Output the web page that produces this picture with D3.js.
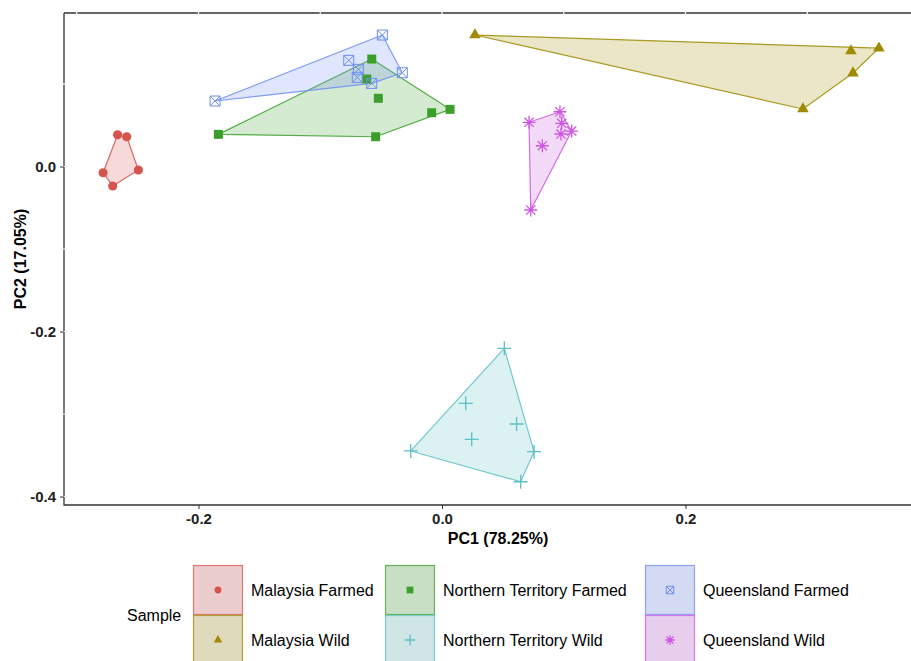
<!DOCTYPE html>
<html>
<head>
<meta charset="utf-8">
<script src="https://cdn.jsdelivr.net/npm/d3@7"></script>
<style>
  body { margin: 0; background: #fff; }
  text { font-family: "Liberation Sans", Arial, sans-serif; }
</style>
</head>
<body>
<svg id="svg-pca"></svg>
<script>
var width = 911,
    height = 661;

// group names and colours
var groups = ["Malaysia Farmed", "Malaysia Wild", "Northern Territory Farmed",
              "Northern Territory Wild", "Queensland Farmed", "Queensland Wild"];
var colors = ["#d5544e", "#9e8b00", "#3c9f2c", "#5abfc6", "#6d8df5", "#cf55e3"];
var shapes = ["circle", "triangle", "square", "plus", "squarecross", "asterisk"];

// PC1, PC2 scores
var malaysiaFarmed = [[-0.2665, 0.0385], [-0.259, 0.0361], [-0.2784, -0.0075],
                      [-0.2705, -0.0236], [-0.2494, -0.0042]];
var malaysiaWild = [[0.0271, 0.1594], [0.3359, 0.140], [0.3589, 0.1436],
                    [0.3376, 0.1133], [0.2965, 0.0697]];
var ntFarmed = [[-0.1837, 0.039], [-0.0577, 0.1303], [-0.0618, 0.1061],
                [-0.0523, 0.0827], [-0.0545, 0.0361], [-0.0085, 0.0652], [0.0066, 0.0693]];
var ntWild = [[0.0512, -0.2204], [0.0195, -0.287], [0.0613, -0.3121],
              [0.0244, -0.3307], [-0.0257, -0.3448], [0.0756, -0.3457], [0.0646, -0.3821]];
var qldFarmed = [[-0.1864, 0.0794], [-0.049, 0.1594], [-0.0766, 0.1287],
                 [-0.0687, 0.1178], [-0.0696, 0.1081], [-0.0577, 0.1008], [-0.0326, 0.1137]];
var qldWild = [[0.0715, 0.0536], [0.0969, 0.0664], [0.0983, 0.0524],
               [0.1065, 0.043], [0.0977, 0.0394], [0.0824, 0.0252], [0.0729, -0.0527]];
var series = [malaysiaFarmed, malaysiaWild, ntFarmed, ntWild, qldFarmed, qldWild];

var xTicks = [-0.2, 0.0, 0.2],
    yTicks = [0.0, -0.2, -0.4],
    gridX = [-0.3, -0.2, -0.1, 0.0, 0.1, 0.2, 0.3],
    gridY = [0.1, 0.0, -0.1, -0.2, -0.3, -0.4];

var pLeft = 64, pRight = 932, pTop = 13, pBottom = 505;

var x = d3.scaleLinear().domain([-0.3105, 0.4025]).range([pLeft, pRight]),
    y = d3.scaleLinear().domain([-0.4103, 0.1861]).range([pBottom, pTop]);

var fmt = function(d) { return d3.format('.1f')(d).replace('\u2212', '-'); };

var svg = d3.select('#svg-pca')
  .attr('width', width)
  .attr('height', height);

function markerPath(shape, s) {
  // s is a scale factor, 1 = plot size
  if (shape == "circle") return d3.symbol(d3.symbolCircle, 66 * s * s)();
  if (shape == "triangle") return d3.symbol(d3.symbolTriangle, 58 * s * s)();
  if (shape == "square") return d3.symbol(d3.symbolSquare, 81 * s * s)();
  if (shape == "plus") {
    var a = 7 * s;
    return "M" + (-a) + ",0H" + a + "M0," + (-a) + "V" + a;
  }
  if (shape == "squarecross") {
    var b = 5 * s;
    return "M" + (-b) + "," + (-b) + "H" + b + "V" + b + "H" + (-b) + "Z" +
           "M" + (-b) + "," + (-b) + "L" + b + "," + b +
           "M" + b + "," + (-b) + "L" + (-b) + "," + b;
  }
  if (shape == "asterisk") {
    var c = 6.5 * s, d = c * 0.707;
    return "M" + (-c) + ",0H" + c + "M0," + (-c) + "V" + c +
           "M" + (-d) + "," + (-d) + "L" + d + "," + d +
           "M" + d + "," + (-d) + "L" + (-d) + "," + d;
  }
}

function isFilled(shape) {
  return shape == "circle" || shape == "triangle" || shape == "square";
}

function drawMarker(g, shape, color, s) {
  var p = g.append('path').attr('d', markerPath(shape, s));
  if (isFilled(shape)) {
    p.attr('fill', color).attr('stroke', 'none');
  } else {
    p.attr('fill', 'none').attr('stroke', color).attr('stroke-width', shape == "squarecross" ? 1 : 1.3);
  }
  return p;
}

// axis lines (left, bottom, top border)
svg.append('path')
  .attr('d', 'M' + pLeft + ',' + pTop + 'V' + pBottom + 'H' + width)
  .attr('fill', 'none').attr('stroke', '#333').attr('stroke-width', 1.3);
svg.append('line')
  .attr('x1', pLeft).attr('x2', width).attr('y1', pTop).attr('y2', pTop)
  .attr('stroke', '#333').attr('stroke-width', 1.3);

// white grid lines (only visible where they cut the axis lines)
svg.append('g').selectAll('line')
  .data(gridX).enter().append('line')
  .attr('x1', d => x(d)).attr('x2', d => x(d))
  .attr('y1', pTop - 2).attr('y2', pBottom - 2)
  .attr('stroke', '#fff').attr('stroke-width', 1.2);
svg.append('g').selectAll('line')
  .data(gridY).enter().append('line')
  .attr('x1', pLeft - 1).attr('x2', width)
  .attr('y1', d => y(d)).attr('y2', d => y(d))
  .attr('stroke', '#fff').attr('stroke-width', 1.2);

// ticks
var xAxis = svg.append('g')
  .attr('transform', 'translate(0,' + pBottom + ')')
  .call(d3.axisBottom(x).tickValues(xTicks).tickFormat(fmt).tickSize(4).tickPadding(4));
var yAxis = svg.append('g')
  .attr('transform', 'translate(' + pLeft + ',0)')
  .call(d3.axisLeft(y).tickValues(yTicks).tickFormat(fmt).tickSize(4).tickPadding(4));
[xAxis, yAxis].forEach(function(a) {
  a.select('.domain').remove();
  a.selectAll('line').attr('stroke', '#333');
  a.selectAll('text')
    .attr('fill', '#222')
    .style('font-size', '15px')
    .style('font-weight', 'bold')
    .style('font-family', '"Liberation Sans", Arial, sans-serif');
});
yAxis.selectAll('text').attr('dy', '0.36em');
xAxis.selectAll('text').attr('dy', '0.75em');

// axis titles
svg.append('text')
  .attr('x', (pLeft + pRight) / 2).attr('y', 544)
  .attr('text-anchor', 'middle')
  .style('font-size', '16px').style('font-weight', 'bold')
  .text('PC1 (78.25%)');
svg.append('text')
  .attr('transform', 'translate(26,' + ((pTop + pBottom) / 2) + ') rotate(-90)')
  .attr('text-anchor', 'middle')
  .style('font-size', '16px').style('font-weight', 'bold')
  .text('PC2 (17.05%)');

// convex hulls
var hulls = svg.append('g').attr('class', 'hulls');
series.forEach(function(pts, i) {
  var hull = d3.polygonHull(pts.map(p => [x(p[0]), y(p[1])]));
  hulls.append('path')
    .attr('d', 'M' + hull.join('L') + 'Z')
    .attr('fill', colors[i])
    .attr('fill-opacity', 0.22)
    .attr('stroke', colors[i])
    .attr('stroke-opacity', 0.85)
    .attr('stroke-width', 1.2)
    .attr('stroke-linejoin', 'round');
});

// points
var points = svg.append('g').attr('class', 'points');
series.forEach(function(pts, i) {
  pts.forEach(function(p) {
    var g = points.append('g')
      .attr('transform', 'translate(' + x(p[0]) + ',' + y(p[1]) + ')');
    drawMarker(g, shapes[i], colors[i], 1);
  });
});

// legend
var legend = svg.append('g').attr('class', 'legend');
var colX = [193, 385, 645], rowY = [565, 615], keySize = 50;
legend.append('text')
  .attr('x', 127).attr('y', 615)
  .attr('dy', '0.35em')
  .style('font-size', '16px')
  .text('Sample');
groups.forEach(function(name, i) {
  var cx = colX[Math.floor(i / 2)], cy = rowY[i % 2];
  var k = legend.append('g').attr('transform', 'translate(' + cx + ',' + cy + ')');
  k.append('rect')
    .attr('x', 0.5).attr('y', 0.5)
    .attr('width', keySize - 1).attr('height', keySize - 1)
    .attr('fill', '#f0f0f0');
  k.append('rect')
    .attr('x', 0.5).attr('y', 0.5)
    .attr('width', keySize - 1).attr('height', keySize - 1)
    .attr('fill', colors[i]).attr('fill-opacity', 0.22)
    .attr('stroke', colors[i]).attr('stroke-opacity', 0.75).attr('stroke-width', 1.2);
  var m = k.append('g').attr('transform', 'translate(' + keySize / 2 + ',' + keySize / 2 + ')');
  drawMarker(m, shapes[i], colors[i], 0.75);
  k.append('text')
    .attr('x', keySize + 8).attr('y', keySize / 2)
    .attr('dy', '0.35em')
    .style('font-size', '16px')
    .text(name);
});
</script>
</body>
</html>
